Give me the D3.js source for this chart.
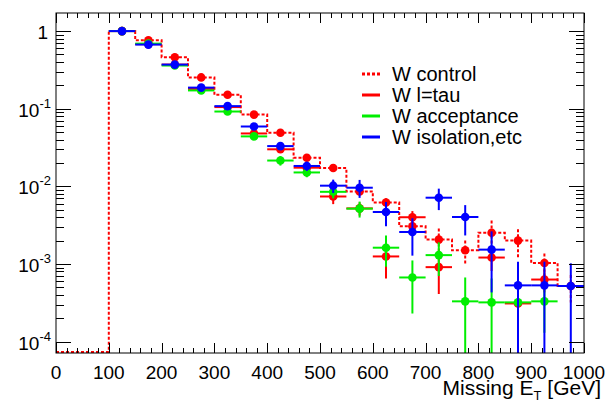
<!DOCTYPE html>
<html>
<head>
<meta charset="utf-8">
<script src="https://cdn.jsdelivr.net/npm/d3@7/dist/d3.min.js"></script>
<style>
    body { margin: 0; background: #fff; }
    svg { display: block; font-family: "Liberation Sans", Arial, Helvetica, sans-serif; }
</style>
</head>
<body>
<div id="chart"></div>
<script>
// bins are 50 GeV wide, first filled bin is 100-150
const binCenters = [125, 175, 225, 275, 325, 375, 425, 475, 525, 575, 625, 675, 725, 775, 825, 875, 925, 975];

const controlVals = [1.0, 0.76, 0.46, 0.253, 0.151, 0.084, 0.049, 0.0234, 0.0172, 0.0086, 0.0062, 0.00305, 0.00206, 0.0015, 0.00253, 0.0020, 0.00103, 0.00052];
const controlErrs = [0.01, 0.015, 0.012, 0.008, 0.006, 0.004, 0.003, 0.002, 0.0015, 0.0009, 0.0008, 0.0005, 0.0008, 0.0005, 0.0011, 0.0008, 0.00033, 0.0002];

const tauVals = [1.0, 0.68, 0.37, 0.18, 0.105, 0.048, 0.030, 0.0174, 0.0074, 0.0052, 0.00125, 0.0040, 0.00091, null, 0.00121, 0.00031, 0.00063, null];
const tauErrs = [0.01, 0.015, 0.012, 0.008, 0.006, 0.004, 0.003, 0.002, 0.0015, 0.001, 0.0006, 0.0008, 0.0005, null, 0.0004, 0.00015, 0.0002, null];

const accVals = [1.0, 0.69, 0.36, 0.172, 0.092, 0.044, 0.0215, 0.0151, 0.0085, 0.00516, 0.00162, 0.00067, 0.0013, 0.00033, 0.00032, 0.00032, 0.00033, null];
const accErrs = [0.01, 0.015, 0.012, 0.008, 0.006, 0.004, 0.003, 0.002, 0.0015, 0.0012, 0.0007, 0.00044, 0.0006, 0.00034, 0.00033, 0.0002, 0.0002, null];

const isoVals = [1.0, 0.67, 0.37, 0.187, 0.108, 0.059, 0.033, 0.0183, 0.0102, 0.0096, 0.00467, 0.00258, 0.00714, 0.00403, 0.00153, 0.00053, 0.00053, 0.00052];
const isoErrs = [0.01, 0.015, 0.012, 0.008, 0.006, 0.004, 0.003, 0.0025, 0.002, 0.0025, 0.0016, 0.0013, 0.0022, 0.0017, 0.0011, 0.00054, 0.00054, 0.0005];

const xTicks = [0, 100, 200, 300, 400, 500, 600, 700, 800, 900, 1000];
const yDecades = [1, 0.1, 0.01, 0.001, 0.0001];
const yDecadeLabels = [['1', ''], ['10', '-1'], ['10', '-2'], ['10', '-3'], ['10', '-4']];

const legendLabels = ['W control', 'W l=tau', 'W acceptance', 'W isolation,etc'];
const legendColors = ['#ff0000', '#ff0000', '#00ee00', '#0000ff'];

const W = 611, H = 403;
const pLeft = 56, pRight = 584, pTop = 13, pBottom = 353;

const svg = d3.select('#chart').append('svg')
    .attr('width', W).attr('height', H);

const x = d3.scaleLinear().domain([0, 1000]).range([pLeft, pRight]);
const y = d3.scaleLog().domain([7.13e-5, 1.71]).range([pBottom, pTop]);
const yMin = y.domain()[0];

svg.append('clipPath').attr('id', 'plotClip')
    .append('rect').attr('x', pLeft).attr('y', pTop)
    .attr('width', pRight - pLeft).attr('height', pBottom - pTop);

const plot = svg.append('g').attr('clip-path', 'url(#plotClip)');

// W control: dotted histogram, starting with the empty region below 100 GeV
const stepData = [{ lo: 0, v: 0 }].concat(binCenters.map((c, i) => ({ lo: c - 25, v: controlVals[i] })));
stepData.push({ lo: 1000, v: controlVals[controlVals.length - 1] });

const stepLine = d3.line()
    .x(d => x(d.lo))
    .y(d => d.v > 0 ? y(d.v) : pBottom - 1)
    .curve(d3.curveStepAfter);

plot.append('path')
    .datum(stepData)
    .attr('d', stepLine)
    .attr('fill', 'none')
    .attr('stroke', '#ff0000')
    .attr('stroke-width', 2)
    .attr('stroke-dasharray', '3,2');

function drawPoints(vals, errs, color, dotted) {
    const pts = binCenters.map((c, i) => ({ c, v: vals[i], e: errs[i] }))
        .filter(d => d.v !== null && d.v > 0);
    const g = plot.append('g');

    g.selectAll('.ey').data(pts).join('line')
        .attr('x1', d => x(d.c)).attr('x2', d => x(d.c))
        .attr('y1', d => y(d.v + d.e))
        .attr('y2', d => (d.v - d.e) > yMin ? y(d.v - d.e) : pBottom)
        .attr('stroke', color).attr('stroke-width', 2)
        .attr('stroke-dasharray', dotted ? '3,2' : null);

    if (!dotted) {
        g.selectAll('.ex').data(pts).join('line')
            .attr('x1', d => x(d.c - 25)).attr('x2', d => x(d.c + 25))
            .attr('y1', d => y(d.v)).attr('y2', d => y(d.v))
            .attr('stroke', color).attr('stroke-width', 2);
    }

    g.selectAll('circle').data(pts).join('circle')
        .attr('cx', d => x(d.c)).attr('cy', d => y(d.v))
        .attr('r', 4.3)
        .attr('fill', color);
}

drawPoints(controlVals, controlErrs, '#ff0000', true);
drawPoints(tauVals, tauErrs, '#ff0000', false);
drawPoints(accVals, accErrs, '#00ee00', false);
drawPoints(isoVals, isoErrs, '#0000ff', false);

// frame
svg.append('rect')
    .attr('x', pLeft).attr('y', pTop)
    .attr('width', pRight - pLeft).attr('height', pBottom - pTop)
    .attr('fill', 'none').attr('stroke', '#000').attr('stroke-width', 1);

// x ticks (bottom and top), minor every 20
const ticks = svg.append('g').attr('stroke', '#000').attr('stroke-width', 1);
const xMinor = d3.range(0, 1001, 20);
xMinor.forEach(v => {
    const major = v % 100 === 0;
    const len = major ? 10 : 5;
    const px = Math.round(x(v)) + 0.5;
    ticks.append('line').attr('x1', px).attr('x2', px).attr('y1', pBottom).attr('y2', pBottom - len);
    ticks.append('line').attr('x1', px).attr('x2', px).attr('y1', pTop).attr('y2', pTop + len);
});

// y ticks (left and right) on log scale
const yTickVals = [];
yDecades.forEach(d => {
    for (let k = 1; k <= 9; k++) yTickVals.push({ v: d * k, major: k === 1 });
});
yTickVals.filter(t => t.v >= yMin && t.v <= y.domain()[1]).forEach(t => {
    const len = t.major ? 15 : 8;
    const py = Math.round(y(t.v)) + 0.5;
    ticks.append('line').attr('x1', pLeft).attr('x2', pLeft + len).attr('y1', py).attr('y2', py);
    ticks.append('line').attr('x1', pRight).attr('x2', pRight - len).attr('y1', py).attr('y2', py);
});

// x tick labels
svg.append('g').selectAll('text').data(xTicks).join('text')
    .attr('x', d => x(d)).attr('y', 379)
    .attr('text-anchor', 'middle')
    .attr('font-size', 19)
    .attr('fill', '#000')
    .text(d => d);

// y tick labels with superscripts
yDecades.forEach((d, i) => {
    const lab = yDecadeLabels[i];
    const t = svg.append('text')
        .attr('x', lab[1] ? 51 : 48)
        .attr('y', y(d) + 8)
        .attr('text-anchor', 'end')
        .attr('font-size', 19)
        .attr('fill', '#000');
    t.append('tspan').text(lab[0]);
    if (lab[1]) {
        t.append('tspan').attr('dy', -9).attr('font-size', 13).text(lab[1]);
    }
});

// x axis title
const xt = svg.append('text')
    .attr('x', 601).attr('y', 395)
    .attr('text-anchor', 'end')
    .attr('font-size', 21)
    .attr('fill', '#000');
xt.append('tspan').text('Missing E');
xt.append('tspan').attr('dy', 5).attr('font-size', 13).text('T');
xt.append('tspan').attr('dy', -5).text(' [GeV]');

// legend
const leg = svg.append('g');
legendLabels.forEach((lab, i) => {
    const ly = 74 + i * 21;
    leg.append('line')
        .attr('x1', 362).attr('x2', 380).attr('y1', ly).attr('y2', ly)
        .attr('stroke', legendColors[i]).attr('stroke-width', 3)
        .attr('stroke-dasharray', i === 0 ? '3,2' : null);
    leg.append('text')
        .attr('x', 392).attr('y', ly + 7)
        .attr('font-size', 20)
        .attr('fill', '#000')
        .text(lab);
});
</script>
</body>
</html>
